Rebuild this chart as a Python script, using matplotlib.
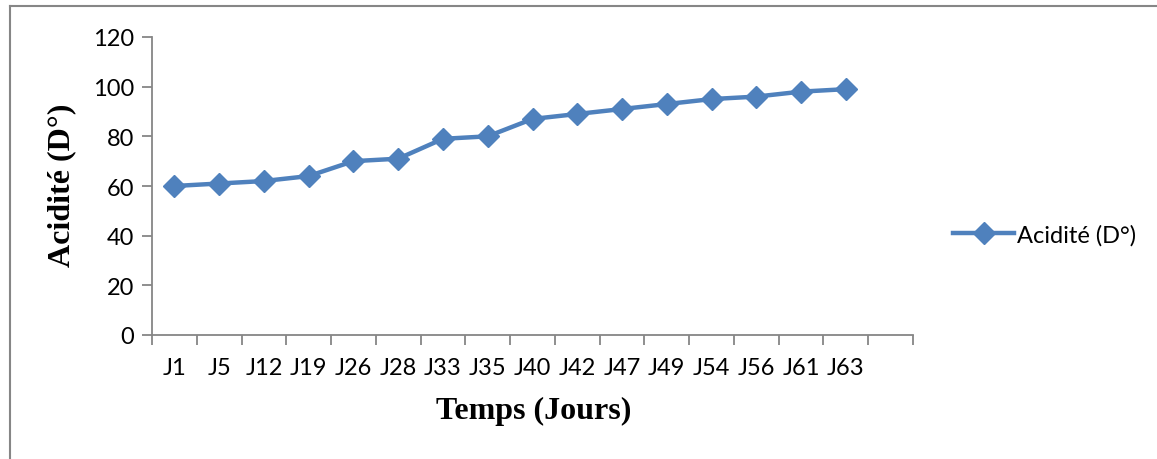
import numpy as np
import matplotlib
matplotlib.use('Agg')
import matplotlib.pyplot as plt
from matplotlib.lines import Line2D

# Données
jours = ['J1', 'J5', 'J12', 'J19', 'J26', 'J28', 'J33', 'J35', 'J40', 'J42',
         'J47', 'J49', 'J54', 'J56', 'J61', 'J63']
acidite = [60, 61, 62, 64, 70, 71, 79, 80, 87, 89, 91, 93, 95, 96, 98, 99]

bleu = '#4F81BD'
gris = '#868686'

fig = plt.figure(figsize=(11.57, 4.6), dpi=100)
ax = fig.add_axes([152/1157, 1 - 336/460, (913-152)/1157, (336-38)/460])

x = np.arange(len(jours))
ax.plot(x, acidite, color=bleu, lw=3.2, marker='D', markersize=11,
        label='Acidité (D°)')

# Axes (style Excel)
ax.set_xlim(-0.5, len(jours) + 0.5)
ax.set_ylim(0, 120)
ax.set_yticks(range(0, 121, 20))
ax.set_xticks(np.arange(-0.5, len(jours) + 1, 1))
ax.set_xticklabels([])
ax.set_xticks(x, minor=True)
ax.set_xticklabels(jours, minor=True, fontsize=17, family='Lato')
ax.tick_params(axis='x', which='major', length=7, color=gris, width=1.3)
ax.tick_params(axis='x', which='minor', length=0, pad=16)
ax.tick_params(axis='y', length=7, color=gris, width=1.3, labelsize=17, pad=6)
for lab in ax.get_yticklabels():
    lab.set_family('Lato')
for s in ['top', 'right']:
    ax.spines[s].set_visible(False)
for s in ['left', 'bottom']:
    ax.spines[s].set_color(gris)
    ax.spines[s].set_linewidth(1.3)

fig.text(534/1157, 1 - 411/460, 'Temps (Jours)', ha='center', va='center',
         family='Liberation Serif', fontweight='bold', fontsize=23)
fig.text(62/1157, 1 - 185/460, 'Acidité (D°)', ha='center', va='center',
         rotation=90, family='Liberation Serif', fontweight='bold', fontsize=23)

# Légende
fig.legend(handles=[Line2D([], [], color=bleu, lw=3.2, marker='D', markersize=11)],
           labels=['Acidité (D°)'], loc='center left',
           bbox_to_anchor=(941/1157, 1 - 236/460), frameon=False,
           prop={'family': 'Lato', 'size': 17}, handlelength=2.6,
           handletextpad=0.1, borderpad=0)

# Cadre extérieur (haut et gauche)
fig.add_artist(Line2D([10/1157, 1], [1 - 7/460, 1 - 7/460], color=gris, lw=1.5))
fig.add_artist(Line2D([10/1157, 10/1157], [0, 1 - 7/460], color=gris, lw=1.5))

fig.savefig('out.png', dpi=100)
